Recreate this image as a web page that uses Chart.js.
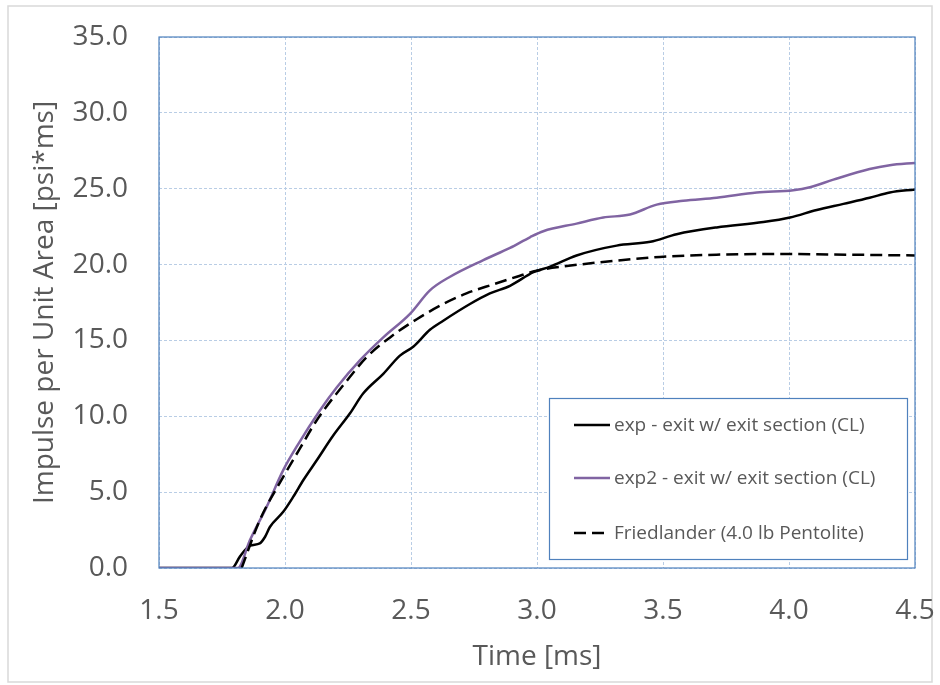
<!DOCTYPE html>
<html>
<head>
<meta charset="utf-8">
<script src="https://cdn.jsdelivr.net/npm/chart.js@4.4.0/dist/chart.umd.min.js"></script>
<style>
  html, body { margin: 0; padding: 0; background: #ffffff; }
  #wrap { width: 940px; height: 685px; position: relative; }
</style>
</head>
<body>
<div id="wrap"><canvas id="c" width="940" height="685"></canvas></div>
<script>
// ---- data ----
const expTime = [1.50, 1.79, 1.821, 1.861, 1.90, 1.921, 1.94, 1.993, 2.033, 2.073, 2.126, 2.192, 2.258, 2.31, 2.39, 2.456, 2.51, 2.575, 2.628, 2.734, 2.813, 2.893, 2.986, 3.05, 3.157, 3.316, 3.45, 3.554, 3.713, 3.898, 4.004, 4.11, 4.216, 4.32, 4.40, 4.50];
const expImpulse = [0, 0, 0.75, 1.47, 1.62, 2.06, 2.7, 3.7, 4.7, 5.8, 7.1, 8.75, 10.2, 11.5, 12.8, 14.0, 14.6, 15.7, 16.3, 17.4, 18.1, 18.6, 19.5, 19.85, 20.6, 21.25, 21.5, 22.0, 22.45, 22.8, 23.1, 23.6, 24.0, 24.4, 24.75, 24.95];

const exp2Time = [1.50, 1.813, 1.861, 1.927, 1.993, 2.05, 2.139, 2.205, 2.298, 2.39, 2.496, 2.575, 2.655, 2.787, 2.893, 2.972, 3.025, 3.157, 3.263, 3.369, 3.475, 3.58, 3.713, 3.872, 4.017, 4.083, 4.176, 4.32, 4.40, 4.50];
const exp2Impulse = [0, 0, 1.84, 4.03, 6.45, 8.1, 10.4, 11.9, 13.7, 15.2, 16.75, 18.3, 19.2, 20.3, 21.1, 21.8, 22.2, 22.7, 23.1, 23.3, 23.95, 24.2, 24.4, 24.75, 24.9, 25.1, 25.6, 26.3, 26.55, 26.7];

const friedTime = [1.828, 1.90, 1.993, 2.06, 2.126, 2.258, 2.324, 2.417, 2.523, 2.628, 2.72, 2.827, 2.92, 2.998, 3.118, 3.25, 3.488, 3.713, 3.977, 4.242, 4.50];
const friedImpulse = [0, 3.16, 6.0, 7.9, 9.74, 12.6, 13.9, 15.2, 16.4, 17.4, 18.1, 18.7, 19.2, 19.6, 19.9, 20.15, 20.5, 20.65, 20.7, 20.65, 20.6];

const seriesLabels = ['exp - exit w/ exit section (CL)', 'exp2 - exit w/ exit section (CL)', 'Friedlander (4.0 lb Pentolite)'];
const xTitle = 'Time [ms]';
const yTitle = 'Impulse per Unit Area [psi*ms]';

const pts = (xs, ys) => xs.map((x, i) => ({x: x, y: ys[i]}));

const FONT = "'Open Sans', 'Liberation Sans', sans-serif";
const TXT = '#595959';

const frame = {
  id: 'frame',
  beforeDraw(chart) {
    const ctx = chart.ctx;
    ctx.save();
    ctx.fillStyle = '#ffffff';
    ctx.fillRect(0, 0, chart.width, chart.height);
    ctx.strokeStyle = '#d9d9d9';
    ctx.lineWidth = 1.5;
    ctx.strokeRect(8, 6, 924, 676);
    ctx.restore();
  },
  afterDatasetsDraw(chart) {
    const ctx = chart.ctx, a = chart.chartArea;
    ctx.save();
    ctx.strokeStyle = '#4f81bd';
    ctx.lineWidth = 1.2;
    ctx.strokeRect(a.left, a.top, a.right - a.left, a.bottom - a.top);
    // legend box
    const r = a.right - 8, b = a.bottom - 9, l = 549, t = 398;
    ctx.fillStyle = '#ffffff';
    ctx.fillRect(l, t, r - l, b - t);
    ctx.strokeStyle = '#4f81bd';
    ctx.lineWidth = 1.2;
    ctx.strokeRect(l + 0.5, t + 0.5, r - l, b - t);
    const rows = [425, 478, 533];
    chart.data.datasets.forEach((ds, i) => {
      ctx.beginPath();
      ctx.strokeStyle = ds.borderColor;
      ctx.lineWidth = ds.borderWidth;
      ctx.setLineDash(ds.borderDash || []);
      ctx.moveTo(574, rows[i]);
      ctx.lineTo(610, rows[i]);
      ctx.stroke();
      ctx.setLineDash([]);
      ctx.fillStyle = TXT;
      ctx.font = '19px ' + FONT;
      ctx.textBaseline = 'middle';
      ctx.textAlign = 'left';
      ctx.fillText(seriesLabels[i], 614, rows[i] + 1);
    });
    ctx.restore();
  }
};

new Chart(document.getElementById('c'), {
  type: 'line',
  data: {
    datasets: [
      { label: seriesLabels[0], data: pts(expTime, expImpulse), borderColor: '#000000', borderWidth: 2.5, pointRadius: 0, cubicInterpolationMode: 'monotone', order: 3 },
      { label: seriesLabels[1], data: pts(exp2Time, exp2Impulse), borderColor: '#8064a2', borderWidth: 2.5, pointRadius: 0, cubicInterpolationMode: 'monotone', order: 2 },
      { label: seriesLabels[2], data: pts(friedTime, friedImpulse), borderColor: '#000000', borderWidth: 2.5, borderDash: [12, 6], pointRadius: 0, cubicInterpolationMode: 'monotone', order: 1 }
    ]
  },
  options: {
    responsive: false,
    animation: false,
    layout: { padding: { left: 0, top: 37, right: 25, bottom: 0 } },
    plugins: { legend: { display: false }, tooltip: { enabled: false } },
    scales: {
      x: {
        type: 'linear', min: 1.5, max: 4.5,
        afterFit(s) { s.height = 117; s.paddingLeft = 0; s.paddingRight = 0; },
        ticks: { stepSize: 0.5, color: TXT, font: { family: FONT, size: 28 }, padding: 26, maxRotation: 0, autoSkip: false,
                 callback: v => Number(v).toFixed(1) },
        grid: { color: '#b9cde5', lineWidth: 1, drawTicks: false },
        border: { display: false, dash: [3, 2] },
        title: { display: true, text: xTitle, color: TXT, font: { family: FONT, size: 28 }, padding: { top: 0, bottom: 11 } }
      },
      y: {
        type: 'linear', min: 0, max: 35,
        afterFit(s) { s.width = 159; s.paddingTop = 0; s.paddingBottom = 0; },
        ticks: { stepSize: 5, color: TXT, font: { family: FONT, size: 28 }, padding: 31,
                 callback: v => Number(v).toFixed(1) },
        grid: { color: '#b9cde5', lineWidth: 1, drawTicks: false },
        border: { display: false, dash: [3, 2] },
        title: { display: true, text: yTitle, color: TXT, font: { family: FONT, size: 28 }, padding: { top: 28, bottom: 0 } }
      }
    }
  },
  plugins: [frame]
});
</script>
</body>
</html>
